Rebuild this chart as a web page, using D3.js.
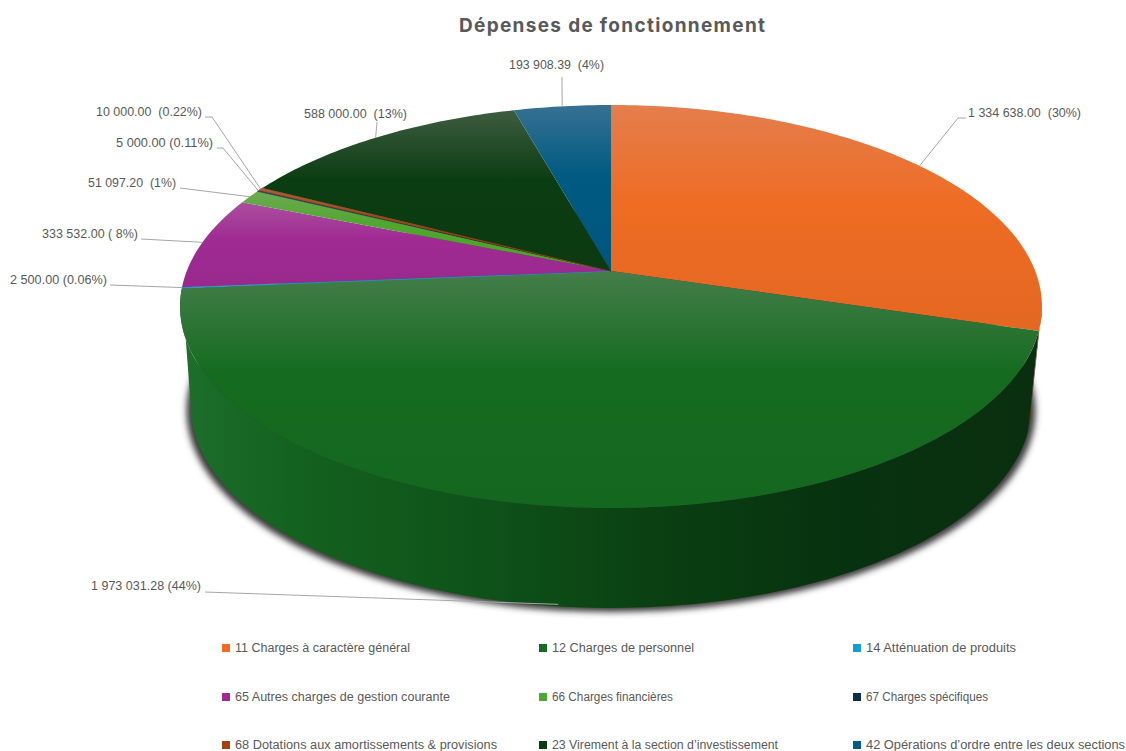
<!DOCTYPE html>
<html><head><meta charset="utf-8">
<script src="https://cdn.jsdelivr.net/npm/d3@7"></script>
<style>html,body{margin:0;background:#fff;overflow:hidden}svg{display:block}text{white-space:pre}</style>
</head><body><svg id="c" width="1126" height="751"></svg>
<script>
const categories = ["11 Charges à caractère général","12 Charges de personnel","14 Atténuation de produits","65 Autres charges de gestion courante","66 Charges financières","67 Charges spécifiques","68 Dotations aux amortissements & provisions","23 Virement à la section d’investissement","42 Opérations d’ordre entre les deux sections"];
const values = [1334638.00,1973031.28,2500.00,333532.00,51097.20,5000.00,10000.00,588000.00,193908.39];
const valueLabels = ["1 334 638.00  (30%)","1 973 031.28 (44%)","2 500.00 (0.06%)","333 532.00 ( 8%)","51 097.20  (1%)","5 000.00 (0.11%)","10 000.00  (0.22%)","588 000.00  (13%)","193 908.39  (4%)"];
const colors = ["#ee6c24","#156b20","#0f9ed5","#a02b93","#4ea72e","#0e2f44","#a5400f","#0b3d12","#005a82"];
const title = "Dépenses de fonctionnement";

// layout: label box [x, baseline, width] and leader elbow, per slice
const labelLayout = [
 {x:968,y:117,w:113,line:[[966,118],[958,118]]},
 {x:91,y:590,w:110,line:[[205,592]]},
 {x:10,y:284,w:97,line:[[110,285]]},
 {x:42,y:238,w:96,line:[[141,239]]},
 {x:88,y:187,w:88,line:[[180,188]]},
 {x:116,y:147,w:97,line:[[217,148],[223,148]]},
 {x:96,y:116,w:106,line:[[205,117],[212,117]]},
 {x:304,y:118,w:103,line:[[377,122]]},
 {x:509,y:69,w:95,line:[[562,77]]}
];
const legendCols=[222,539,853], legendRows=[648,697,745];

const cx=611, cy=271, A=424.2, B=195.2, k=0.1762, depth=100, baseScale=0.975;
const project=(t,xs=1,dy=0)=>{const u=Math.sin(t),v=-Math.cos(t),d=1-k*v;
  return [cx+xs*A*u/d, cy+B*v/d+dy];};
const arcPts=(a,b,xs,dy,n=120)=>d3.range(n+1).map(i=>project(a+(b-a)*i/n,xs,dy));
const line=d3.line();
const svg=d3.select("#c");
const defs=svg.append("defs");
const pie=d3.pie().sort(null).value(d=>d).startAngle(0).endAngle(2*Math.PI);
const arcs=pie(values);

// gradients
const sheen="#c8b0bc";
arcs.forEach((a,i)=>{
  const base=colors[i];
  const g=defs.append("linearGradient").attr("id","g"+i).attr("x1",0).attr("y1",0).attr("x2",0).attr("y2",1);
  g.append("stop").attr("offset","0").attr("stop-color",d3.interpolateRgb(base,sheen)(0.27));
  g.append("stop").attr("offset","0.43").attr("stop-color",base);
  g.append("stop").attr("offset","1").attr("stop-color",d3.color(base).darker(0.12));
});
const sg=defs.append("linearGradient").attr("id","side").attr("gradientUnits","userSpaceOnUse").attr("x1",190).attr("x2",1030).attr("y1",0).attr("y2",0);
[[0,"#1c6e2a"],[0.12,"#14621f"],[0.35,"#0e5219"],[0.55,"#0a4012"],[0.78,"#07320f"],[1,"#0a2f10"]].forEach(s=>sg.append("stop").attr("offset",s[0]).attr("stop-color",s[1]));
defs.append("filter").attr("id","blur").attr("x","-10%").attr("y","-10%").attr("width","120%").attr("height","120%")
  .append("feGaussianBlur").attr("stdDeviation",3);

svg.append("text").attr("x",459).attr("y",32).attr("textLength",306).attr("lengthAdjust","spacing")
  .attr("font-family","Inter, sans-serif").attr("font-weight",700).attr("font-size",19).attr("fill","#595959").text(title);

// shadow under the pie
svg.append("path").attr("d",line(arcPts(0,2*Math.PI,0.985,depth+4,240))+"Z").attr("fill","#3a3a3a").attr("filter","url(#blur)");

// walls
const tangent=Math.acos(-k); // angle at which the ellipse is widest
const wall=(a,b,fill)=>{
  const pts=arcPts(a,b,baseScale,depth).concat(arcPts(a,b,1,0).reverse());
  svg.append("path").attr("d",line(pts)+"Z").attr("fill",fill);
};
wall(tangent,arcs[0].endAngle,"#5a3410");
{
  const g=arcs[1];
  const pts=arcPts(g.startAngle,2*Math.PI-tangent,baseScale,depth).concat(arcPts(g.startAngle,g.endAngle,1,0).reverse());
  svg.append("path").attr("d",line(pts)+"Z").attr("fill","url(#side)");
}

// top face
svg.append("g").selectAll("path").data(arcs).join("path")
  .attr("d",d=>line([[cx,cy],...arcPts(d.startAngle,d.endAngle,1,0,Math.max(8,Math.ceil((d.endAngle-d.startAngle)*60)))])+"Z")
  .attr("fill",(d,i)=>`url(#g${i})`)
  .attr("stroke",(d,i)=>(d.endAngle-d.startAngle)<0.02?colors[i]:"none").attr("stroke-width",0.7);

// leaders and value labels
const font="'Liberation Sans', Arial, sans-serif";
arcs.forEach((a,i)=>{
  const m=(a.startAngle+a.endAngle)/2, L=labelLayout[i];
  const front=i===1;
  const end=project(m,front?baseScale:1,front?depth-2:0);
  svg.append("path").attr("d",line([...L.line,end])).attr("fill","none").attr("stroke","#a6a6a6").attr("stroke-width",1);
  svg.append("text").attr("x",L.x).attr("y",L.y).attr("textLength",L.w).attr("lengthAdjust","spacingAndGlyphs")
    .attr("font-family",font).attr("font-size",12).attr("fill","#595959").text(valueLabels[i]);
});

// legend
const legendWidths=[175,142,150,215,121,122,262,226,259];
categories.forEach((c,i)=>{
  const col=i%3,row=Math.floor(i/3),x=legendCols[col],y=legendRows[row];
  svg.append("rect").attr("x",x).attr("y",y-4).attr("width",8).attr("height",8).attr("fill",colors[i]);
  svg.append("text").attr("x",x+13).attr("y",y+4).attr("textLength",legendWidths[i]).attr("lengthAdjust","spacingAndGlyphs")
    .attr("font-family",font).attr("font-size",12).attr("fill","#595959").text(c);
});
</script></body></html>
